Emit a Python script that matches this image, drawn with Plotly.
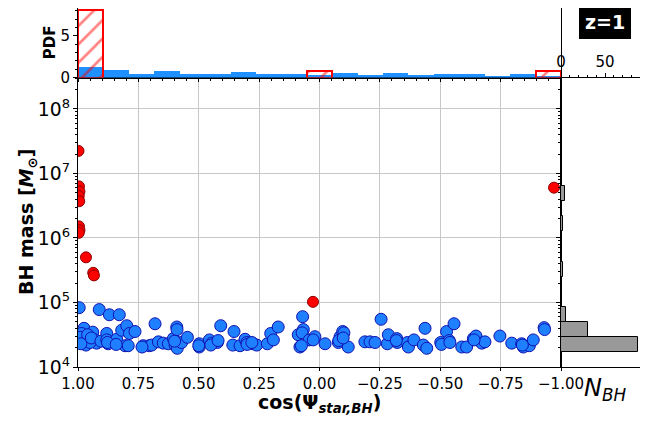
import numpy as np
import plotly.graph_objects as go

# ----------------------------
# Data
# ----------------------------
# blue BHs: cos(psi) and log10(M_BH)
blue_cos = [0.995, 0.912, 0.870, 0.829, 0.975, 0.985, 0.978, 0.967, 0.978, 0.967,
            0.939, 0.930, 0.923, 0.990, 0.960, 0.950, 0.988, 0.945, 0.905,
            0.881, 0.881, 0.875, 0.840, 0.819, 0.798, 0.787, 0.764, 0.805, 0.792,
            0.730, 0.705, 0.695, 0.681, 0.667, 0.647, 0.626, 0.605, 0.591, 0.590,
            0.598, 0.589, 0.571, 0.547, 0.498, 0.498, 0.456, 0.446, 0.423, 0.409,
            0.359, 0.354, 0.329, 0.308, 0.301, 0.285, 0.274, 0.260, 0.216, 0.202,
            0.191, 0.171, 0.088, 0.070, 0.067, 0.072, 0.081, 0.042,
            0.019, 0.026, -0.023, -0.078, -0.085, -0.096, -0.101, -0.119,
            -0.188, -0.209, -0.230, -0.255, -0.281, -0.285, -0.320, -0.322,
            -0.364, -0.368, -0.391, -0.430, -0.437, -0.444, -0.502, -0.526,
            -0.537, -0.557, -0.589, -0.609, -0.637, -0.648, -0.672, -0.685,
            -0.747, -0.796, -0.837, -0.844, -0.869, -0.885, -0.930,
            # partly hidden behind others
            0.878, 0.842, 0.735, 0.500, 0.450, 0.420, 0.300, -0.080, -0.318,
            -0.505, -0.540, -0.640, -0.840, -0.932, 0.600, 0.280, 0.075, -0.098]
blue_logm = [4.92, 4.89, 4.81, 4.81, 4.60, 4.52, 4.44, 4.41, 4.37, 4.34,
             4.54, 4.42, 4.37, 4.46, 4.50, 4.38, 4.36, 4.45, 4.40,
             4.52, 4.42, 4.36, 4.43, 4.57, 4.64, 4.52, 4.55, 4.33, 4.33,
             4.33, 4.33, 4.34, 4.67, 4.39, 4.37, 4.36, 4.44, 4.62, 4.58,
             4.34, 4.29, 4.38, 4.46, 4.36, 4.31, 4.42, 4.37, 4.38, 4.64,
             4.34, 4.55, 4.33, 4.43, 4.38, 4.37, 4.36, 4.34, 4.36, 4.52,
             4.42, 4.62, 4.50, 4.78, 4.58, 4.53, 4.31, 4.42,
             4.47, 4.42, 4.36, 4.38, 4.47, 4.55, 4.53, 4.31,
             4.39, 4.39, 4.38, 4.74, 4.36, 4.50, 4.44, 4.38,
             4.38, 4.31, 4.42, 4.34, 4.60, 4.29, 4.38, 4.55,
             4.41, 4.67, 4.31, 4.31, 4.44, 4.48, 4.37, 4.39,
             4.48, 4.37, 4.36, 4.31, 4.33, 4.42, 4.61,
             4.38, 4.35, 4.31, 4.33, 4.34, 4.41, 4.35, 4.41, 4.41,
             4.35, 4.38, 4.42, 4.34, 4.58, 4.40, 4.38, 4.33, 4.45]

# red BHs
red_cos = [0.998, 0.996, 0.994, 0.997, 0.995, 0.996, 0.994, 0.997,
           0.967, 0.937, 0.934, 0.027, -0.971]
red_logm = [7.35, 6.80, 6.72, 6.65, 6.57, 6.18, 6.12, 6.08,
            5.70, 5.46, 5.42, 5.01, 6.78]

all_logm = blue_logm + red_logm

FONT = "DejaVu Sans"
LOGMIN, LOGMAX = 4.0, 8.48

fig = go.Figure()

# top: PDF of cos(psi)
fig.add_trace(go.Histogram(
    x=blue_cos, histnorm="probability density",
    xbins=dict(start=-1, end=1.0001, size=2 / 19),
    marker=dict(color="#1E90FF", line=dict(width=0)),
    xaxis="x2", yaxis="y2", showlegend=False))
fig.add_trace(go.Histogram(
    x=red_cos, histnorm="probability density",
    xbins=dict(start=-1, end=1.0001, size=2 / 19),
    marker=dict(color="rgba(0,0,0,0)", line=dict(color="red", width=2),
                pattern=dict(shape="/", fgcolor="red", bgcolor="rgba(0,0,0,0)",
                             size=13, solidity=0.2)),
    opacity=1,
    xaxis="x2", yaxis="y2", showlegend=False))

# main scatter
fig.add_trace(go.Scatter(
    x=blue_cos, y=10 ** np.array(blue_logm), mode="markers",
    marker=dict(size=12, color="#1F80FF", line=dict(color="#1010B0", width=1)),
    showlegend=False))
fig.add_trace(go.Scatter(
    x=red_cos, y=10 ** np.array(red_logm), mode="markers",
    marker=dict(size=11, color="red", line=dict(color="#8B0000", width=1)),
    showlegend=False))

# right: N_BH per log mass bin
fig.add_trace(go.Histogram(
    y=all_logm, ybins=dict(start=4.228, end=7.51, size=0.2343),
    marker=dict(color="#999999", line=dict(color="black", width=1)),
    orientation="h", xaxis="x3", yaxis="y3", showlegend=False))

# minor log ticks for the side panel (linear axis in log units)
minor_vals = [np.log10(k * 10 ** n) for n in range(4, 9) for k in range(2, 10)]
minor_vals = [v for v in minor_vals if v < LOGMAX]

axis_common = dict(showline=True, linecolor="black", linewidth=1, mirror=True,
                   ticks="outside", tickcolor="black", zeroline=False,
                   automargin=False,
                   tickfont=dict(family=FONT, size=15, color="black"))

# page body adds 8px, so the figure is 640x424
fig.update_layout(
    width=640, height=424,
    margin=dict(l=70, r=6, t=0, b=65),
    plot_bgcolor="white", paper_bgcolor="white",
    barmode="overlay", bargap=0,
    font=dict(family=FONT, color="black"),
    xaxis=dict(axis_common, domain=[0, 0.8564], range=[1, -1],
               tickvals=[1, 0.75, 0.5, 0.25, 0, -0.25, -0.5, -0.75, -1],
               tickformat=".2f", ticklen=3, showgrid=True, gridcolor="#C8C8C8"),
    yaxis=dict(axis_common, domain=[0, 0.805], type="log",
               range=[LOGMIN, LOGMAX], dtick=1, exponentformat="power",
               ticklen=4, showgrid=True, gridcolor="#C8C8C8",
               minor=dict(ticks="outside", ticklen=2, dtick="D1", showgrid=False)),
    xaxis2=dict(axis_common, domain=[0, 0.8564], anchor="y2", matches="x",
                showticklabels=False, showgrid=False, ticklen=3,
                tickvals=[1, 0.75, 0.5, 0.25, 0, -0.25, -0.5, -0.75, -1],
                minor=dict(ticks="outside", ticklen=2, dtick=0.05)),
    yaxis2=dict(axis_common, domain=[0.8064, 1], anchor="x2", range=[0, 8.33],
                tickvals=[0, 5], ticklen=4, showgrid=False,
                minor=dict(ticks="outside", ticklen=2, dtick=1)),
    xaxis3=dict(axis_common, domain=[0.8564, 1], anchor="y3", side="top",
                range=[0, 92], tickvals=[0, 50], ticklen=4, showgrid=False,
                minor=dict(ticks="outside", ticklen=2, dtick=10)),
    yaxis3=dict(axis_common, domain=[0, 0.805], anchor="x3",
                range=[LOGMIN, LOGMAX], tickvals=[4, 5, 6, 7, 8], ticklen=4,
                showticklabels=False, showgrid=False,
                minor=dict(ticks="outside", ticklen=2, tickmode="array",
                           tickvals=minor_vals)),
)

# axis titles and labels
labels = [
    ("<b>cos(Ψ<sub><i>star,BH</i></sub>)</b>", 0.428, -0.103, 19, 0, "black", None),
    ("<b>BH mass [<i>M</i><sub>⊙</sub>]</b>", -0.0887, 0.404, 19, -90, "black", None),
    ("<b>PDF</b>", -0.0496, 0.905, 15, -90, "black", None),
    ("<b>z=1</b>", 0.934, 0.961, 19, 0, "white", "black"),
    ("<i>N</i><sub><i>BH</i></sub>", 0.935, -0.064, 24, 0, "black", None),
]
for text, x, y, size, angle, color, bg in labels:
    fig.add_annotation(text=text, xref="paper", yref="paper", x=x, y=y,
                       xanchor="center", yanchor="middle", showarrow=False,
                       textangle=angle,
                       font=dict(family=FONT, size=size, color=color),
                       bgcolor=bg, bordercolor=bg, borderpad=5 if bg else 0)

fig.write_html("out.html")
